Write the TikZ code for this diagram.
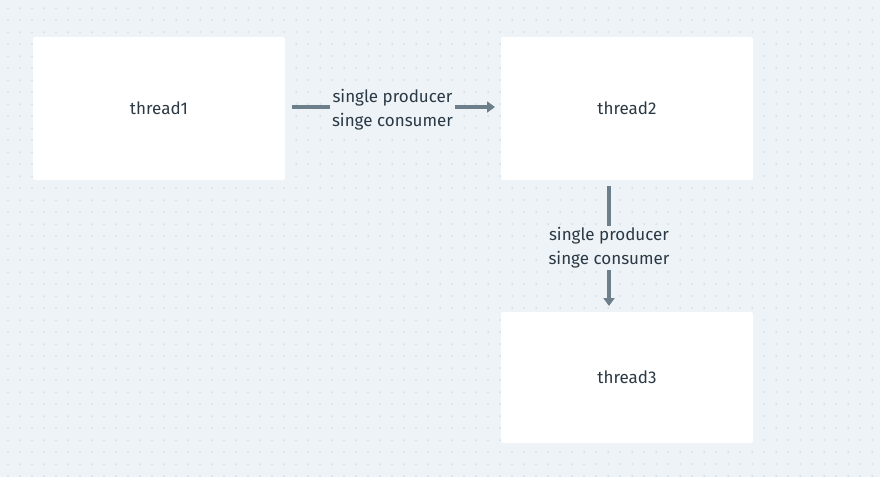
\documentclass[tikz,border=0pt]{standalone}
\usepackage{fontspec}
\setmainfont{Fira Sans}
\usetikzlibrary{arrows.meta}
\definecolor{bg}{HTML}{EEF3F7}
\definecolor{dotc}{HTML}{C2CBD3}
\definecolor{edge}{HTML}{6E7F8C}
\definecolor{txt}{HTML}{2A3944}
\tikzset{
  box/.style={fill=white, draw=none, rounded corners=2pt, minimum width=252pt, inner sep=0pt, font=\fontsize{17}{20}\selectfont, text=txt},
  conn/.style={draw=edge, line width=3.6pt, -{Triangle[length=8pt,width=11pt]}},
  lbl/.style={fill=bg, align=center, inner sep=2pt, font=\fontsize{17}{24}\selectfont, text=txt}
}
\begin{document}
\begin{tikzpicture}[x=1pt,y=-1pt]
\fill[bg] (0,0) rectangle (880,477);
\useasboundingbox (0,0) rectangle (880,477);
\foreach \i in {0,...,73}{
  \foreach \j in {0,...,39}{
    \fill[dotc] (8+\i*12,8+\j*12) circle (0.75pt);
  }
}
\node[box, minimum height=143pt] (t1) at (159,108.5) {thread1};
\node[box, minimum height=143pt] (t2) at (627,108.5) {thread2};
\node[box, minimum height=131pt] (t3) at (627,377.5) {thread3};
\coordinate (a1s) at (292,107);
\coordinate (a1e) at (495,107);
\draw[conn] (a1s) -- (a1e) node[lbl, midway, xshift=-1pt, yshift=-3pt] {single producer\\singe consumer};
\coordinate (a2s) at (609,186);
\coordinate (a2e) at (609,306);
\draw[conn] (a2s) -- (a2e) node[lbl, midway, yshift=-2pt] {single producer\\singe consumer};
\end{tikzpicture}
\end{document}
